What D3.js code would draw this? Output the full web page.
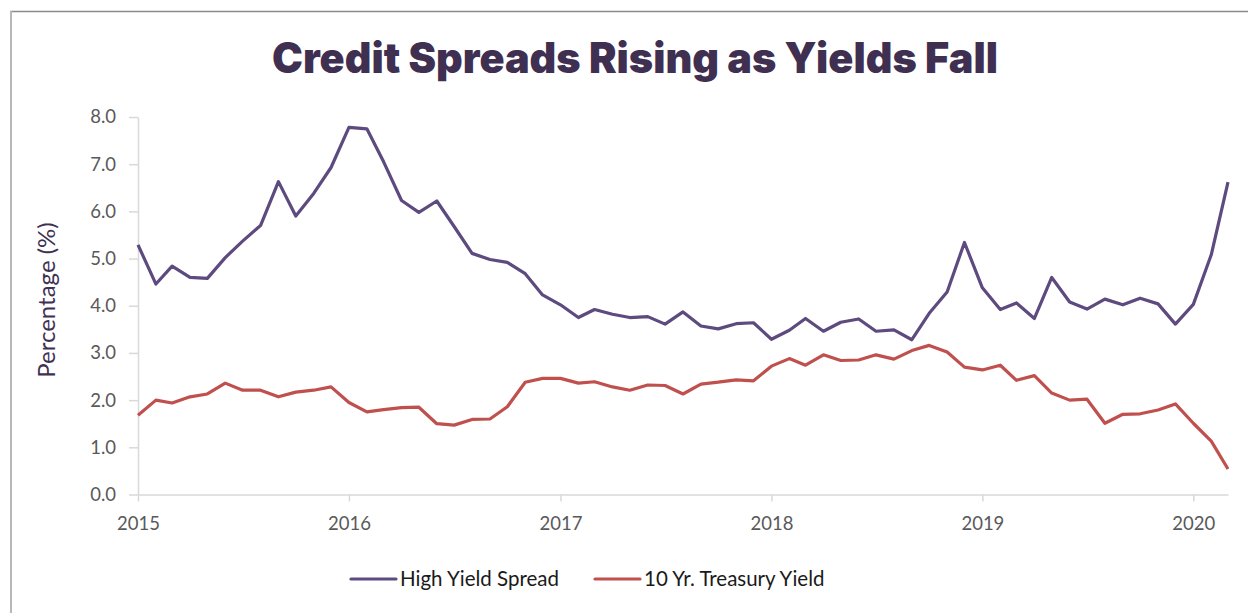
<!DOCTYPE html>
<html>
<head>
<meta charset="utf-8">
<script src="https://cdn.jsdelivr.net/npm/d3@7"></script>
<style>
  body { margin: 0; background: #fff; }
  svg { display: block; }
</style>
</head>
<body>
<div id="chart"></div>
<script>
// monthly data, Jan 2015 .. Mar 2020
var firstMonth = new Date(2015, 0, 1);
var lastMonth = new Date(2020, 2, 1);
var yearTicks = [2015, 2016, 2017, 2018, 2019, 2020];
var yTicks = [0, 1, 2, 3, 4, 5, 6, 7, 8];
var seriesNames = ["High Yield Spread", "10 Yr. Treasury Yield"];

var highYield = [
  5.29, 4.46, 4.84, 4.60, 4.58, 5.02, 5.37, 5.70, 6.63, 5.90, 6.38, 6.93,
  7.78, 7.75, 7.05, 6.23, 5.98, 6.22, 5.68, 5.11, 4.98, 4.92, 4.68, 4.23,
  4.02, 3.75, 3.92, 3.82, 3.75, 3.77, 3.61, 3.87, 3.57, 3.51, 3.62, 3.64,
  3.29, 3.48, 3.73, 3.46, 3.65, 3.72, 3.46, 3.49, 3.28, 3.84, 4.29, 5.34,
  4.38, 3.92, 4.06, 3.73, 4.60, 4.08, 3.93, 4.14, 4.02, 4.16, 4.04, 3.61,
  4.03, 5.08, 6.62
];

var treasury = [
  1.68, 2.00, 1.94, 2.07, 2.13, 2.36, 2.21, 2.21, 2.07, 2.17, 2.21, 2.28,
  1.95, 1.75, 1.80, 1.84, 1.85, 1.50, 1.47, 1.59, 1.60, 1.86, 2.38, 2.46,
  2.46, 2.36, 2.39, 2.28, 2.21, 2.32, 2.31, 2.13, 2.34, 2.38, 2.43, 2.41,
  2.72, 2.88, 2.74, 2.96, 2.84, 2.85, 2.96, 2.87, 3.05, 3.16, 3.02, 2.70,
  2.64, 2.74, 2.42, 2.52, 2.15, 2.00, 2.02, 1.51, 1.70, 1.71, 1.79, 1.92,
  1.51, 1.13, 0.54
];

var width = 1248;
var height = 613;

// plot area edges
var plotLeft = 138, plotRight = 1228, plotTop = 117, plotBottom = 494.5;

var purple = "#5d4a7e";
var red = "#c0504d";
var gridColor = "#d9d9d9";

var months = d3.timeMonth.range(firstMonth, d3.timeMonth.offset(lastMonth, 1));

var svg = d3.select("#chart").append("svg")
  .attr("width", width)
  .attr("height", height);

svg.append("rect").attr("width", width).attr("height", height).attr("fill", "#fff");

// chart frame (only top & left edges show)
svg.append("line")
  .attr("x1", 10).attr("x2", width).attr("y1", 11.5).attr("y2", 11.5)
  .attr("stroke", "#8a8a8a").attr("stroke-width", 1.5);
svg.append("line")
  .attr("x1", 11).attr("x2", 11).attr("y1", 11).attr("y2", height)
  .attr("stroke", "#b8b8b8").attr("stroke-width", 2);

// title
svg.append("text")
  .attr("x", 635)
  .attr("y", 73)
  .attr("text-anchor", "middle")
  .attr("textLength", 726)
  .attr("lengthAdjust", "spacingAndGlyphs")
  .style("font-family", "Inter, 'Liberation Sans', sans-serif")
  .style("font-weight", 900)
  .style("font-size", "42px")
  .attr("fill", "#3f3052")
  .text("Credit Spreads Rising as Yields Fall");

var xScale = d3.scaleTime()
  .domain([firstMonth, lastMonth])
  .range([plotLeft, plotRight]);

var yScale = d3.scaleLinear()
  .domain([0, 8])
  .range([plotBottom, plotTop]);

var xAxis = d3.axisBottom(xScale)
  .tickValues(yearTicks.map(function(y) { return new Date(y, 0, 1); }))
  .tickFormat(d3.timeFormat("%Y"))
  .tickSize(7)
  .tickSizeOuter(0)
  .tickPadding(15);

var yAxis = d3.axisLeft(yScale)
  .tickValues(yTicks)
  .tickFormat(d3.format(".1f"))
  .tickSize(9)
  .tickSizeOuter(0)
  .tickPadding(13);

var gx = svg.append("g")
  .attr("class", "xAxis")
  .attr("transform", "translate(0," + plotBottom + ")")
  .call(xAxis);

var gy = svg.append("g")
  .attr("class", "yAxis")
  .attr("transform", "translate(" + plotLeft + ",0)")
  .call(yAxis);

[gx, gy].forEach(function(g) {
  g.select(".domain").attr("stroke", gridColor).attr("stroke-width", 1.5);
  g.selectAll(".tick line").attr("stroke", gridColor).attr("stroke-width", 1.5);
  g.selectAll(".tick text")
    .attr("fill", "#595959")
    .style("font-family", "Lato, 'Open Sans', sans-serif")
    .style("font-size", "18.5px");
});

// y axis title
svg.append("text")
  .attr("transform", "translate(55,300) rotate(-90)")
  .attr("text-anchor", "middle")
  .style("font-family", "Lato, 'Open Sans', sans-serif")
  .style("font-size", "24px")
  .attr("fill", "#403152")
  .text("Percentage (%)");

var line = d3.line()
  .x(function(d, i) { return xScale(months[i]); })
  .y(function(d) { return yScale(d); });

svg.append("path")
  .datum(treasury)
  .attr("d", line)
  .attr("fill", "none")
  .attr("stroke", red)
  .attr("stroke-width", 3.2)
  .attr("stroke-linejoin", "round");

svg.append("path")
  .datum(highYield)
  .attr("d", line)
  .attr("fill", "none")
  .attr("stroke", purple)
  .attr("stroke-width", 3.2)
  .attr("stroke-linejoin", "round");

// legend
var legendItems = [
  { name: seriesNames[0], color: purple, x: 351 },
  { name: seriesNames[1], color: red, x: 595 }
];

var legend = svg.selectAll("g.legendItem")
  .data(legendItems)
  .enter()
  .append("g")
  .attr("class", "legendItem")
  .attr("transform", function(d) { return "translate(" + d.x + ",579)"; });

legend.append("line")
  .attr("x1", 0).attr("x2", 45)
  .attr("stroke", function(d) { return d.color; })
  .attr("stroke-width", 3.2)
  .attr("stroke-linecap", "round");

legend.append("text")
  .attr("x", 49)
  .attr("y", 7)
  .style("font-family", "Lato, 'Open Sans', sans-serif")
  .style("font-size", "20.5px")
  .attr("fill", "#1a1a1a")
  .text(function(d) { return d.name; });
</script>
</body>
</html>
